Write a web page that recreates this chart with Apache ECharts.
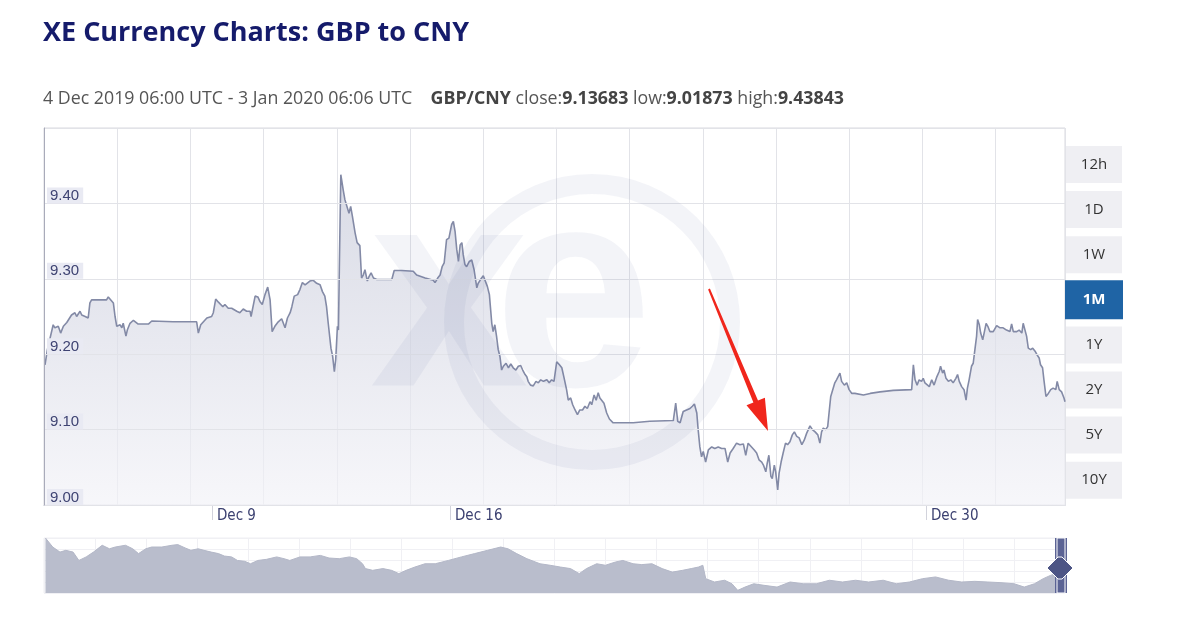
<!DOCTYPE html>
<html><head><meta charset="utf-8">
<script src="https://cdn.jsdelivr.net/npm/echarts@6/dist/echarts.min.js"></script>
<style>html,body{margin:0;padding:0;background:#fff}#c{width:1197px;height:625px}</style>
</head><body><div id="c"></div>
<script>
// GBP/CNY, x = days since 1 Dec 2019 00:00 (Dec 9 = 8), y = rate
const gbpCny = [[3.09,9.186],[3.16,9.206],[3.33,9.239],[3.38,9.235],[3.48,9.237],[3.55,9.228],[3.63,9.237],[3.73,9.242],[3.87,9.252],[3.97,9.255],
[4.02,9.250],[4.12,9.257],[4.17,9.252],[4.27,9.250],[4.36,9.248],[4.41,9.268],[4.46,9.272],[4.90,9.272],[4.95,9.276],[5.00,9.275],
[5.10,9.268],[5.15,9.250],[5.20,9.237],[5.25,9.235],[5.30,9.239],[5.35,9.235],[5.39,9.241],[5.47,9.224],[5.51,9.232],[5.59,9.241],
[5.69,9.245],[5.83,9.240],[6.13,9.240],[6.23,9.244],[6.86,9.243],[7.55,9.243],[7.60,9.228],[7.67,9.239],[7.85,9.248],[7.99,9.250],
[8.04,9.255],[8.11,9.273],[8.19,9.269],[8.24,9.270],[8.32,9.263],[8.38,9.266],[8.48,9.261],[8.58,9.261],[8.73,9.257],[8.82,9.255],
[8.92,9.260],[9.02,9.257],[9.12,9.257],[9.15,9.250],[9.27,9.277],[9.35,9.276],[9.41,9.270],[9.48,9.266],[9.56,9.279],[9.64,9.289],
[9.71,9.272],[9.77,9.230],[9.85,9.237],[9.95,9.243],[10.05,9.247],[10.15,9.235],[10.22,9.248],[10.30,9.255],[10.35,9.263],[10.42,9.277],
[10.52,9.279],[10.59,9.286],[10.66,9.295],[10.74,9.292],[10.88,9.297],[10.98,9.298],[11.08,9.294],[11.18,9.292],[11.25,9.283],[11.32,9.277],
[11.37,9.263],[11.42,9.241],[11.50,9.208],[11.55,9.197],[11.60,9.177],[11.64,9.193],[11.69,9.237],[11.72,9.232],[11.75,9.325],[11.79,9.438],
[11.86,9.418],[11.91,9.405],[11.96,9.403],[12.03,9.387],[12.08,9.396],[12.13,9.383],[12.21,9.361],[12.27,9.348],[12.35,9.344],[12.40,9.301],
[12.45,9.305],[12.50,9.312],[12.57,9.297],[12.62,9.303],[12.68,9.308],[12.75,9.301],[12.85,9.299],[13.29,9.299],[13.36,9.311],[13.58,9.311],
[13.92,9.310],[14.02,9.305],[14.27,9.301],[14.51,9.298],[14.56,9.295],[14.64,9.301],[14.71,9.305],[14.77,9.316],[14.83,9.321],[14.90,9.352],
[14.97,9.354],[15.05,9.372],[15.10,9.376],[15.15,9.363],[15.20,9.339],[15.25,9.323],[15.30,9.345],[15.35,9.348],[15.39,9.332],[15.44,9.319],
[15.49,9.316],[15.57,9.323],[15.64,9.325],[15.71,9.312],[15.79,9.288],[15.83,9.294],[15.90,9.299],[15.98,9.304],[16.03,9.302],[16.10,9.290],
[16.16,9.279],[16.23,9.241],[16.27,9.230],[16.32,9.239],[16.37,9.224],[16.42,9.206],[16.47,9.197],[16.52,9.179],[16.57,9.184],[16.65,9.188],
[16.72,9.182],[16.79,9.187],[16.86,9.182],[16.94,9.179],[17.01,9.184],[17.08,9.185],[17.14,9.179],[17.21,9.173],[17.26,9.170],[17.30,9.164],
[17.37,9.159],[17.45,9.158],[17.53,9.164],[17.60,9.162],[17.67,9.166],[17.75,9.164],[17.85,9.166],[17.92,9.162],[17.99,9.166],[18.06,9.164],
[18.14,9.190],[18.22,9.186],[18.29,9.182],[18.35,9.170],[18.43,9.153],[18.48,9.139],[18.55,9.142],[18.61,9.133],[18.68,9.126],[18.75,9.120],
[18.82,9.126],[18.90,9.126],[18.97,9.131],[19.04,9.128],[19.12,9.137],[19.17,9.133],[19.24,9.146],[19.30,9.139],[19.36,9.149],[19.41,9.142],
[19.46,9.144],[19.53,9.135],[19.61,9.122],[19.69,9.114],[19.80,9.109],[20.39,9.109],[20.88,9.111],[21.57,9.112],[21.64,9.135],[21.70,9.111],
[21.77,9.109],[21.86,9.124],[21.96,9.126],[22.06,9.128],[22.13,9.131],[22.19,9.134],[22.26,9.122],[22.30,9.100],[22.35,9.077],[22.40,9.064],
[22.45,9.071],[22.52,9.057],[22.60,9.073],[22.70,9.077],[22.79,9.075],[22.89,9.077],[22.99,9.075],[23.09,9.075],[23.17,9.057],[23.24,9.069],
[23.33,9.075],[23.43,9.082],[23.53,9.080],[23.63,9.081],[23.70,9.066],[23.77,9.082],[23.87,9.077],[23.95,9.073],[24.02,9.069],[24.09,9.060],
[24.17,9.057],[24.22,9.053],[24.29,9.044],[24.33,9.055],[24.38,9.066],[24.44,9.038],[24.48,9.035],[24.54,9.053],[24.58,9.044],[24.64,9.020],
[24.68,9.042],[24.74,9.057],[24.80,9.069],[24.87,9.082],[24.93,9.080],[25.00,9.084],[25.07,9.093],[25.13,9.097],[25.20,9.091],[25.27,9.089],
[25.35,9.080],[25.42,9.086],[25.49,9.095],[25.59,9.105],[25.66,9.100],[25.74,9.097],[25.82,9.093],[25.88,9.082],[25.93,9.097],[25.98,9.102],
[26.05,9.100],[26.11,9.104],[26.15,9.122],[26.20,9.144],[26.25,9.142],[26.32,9.162],[26.37,9.166],[26.42,9.164],[26.47,9.175],[26.52,9.164],
[26.60,9.159],[26.67,9.162],[26.74,9.153],[26.82,9.148],[26.91,9.148],[27.16,9.146],[27.36,9.148],[27.65,9.150],[28.04,9.152],[28.58,9.153],
[28.63,9.186],[28.68,9.166],[28.74,9.159],[28.80,9.166],[28.87,9.164],[28.92,9.168],[28.97,9.162],[29.02,9.164],[29.10,9.157],[29.17,9.166],
[29.24,9.159],[29.32,9.170],[29.39,9.177],[29.43,9.184],[29.49,9.175],[29.53,9.179],[29.59,9.168],[29.66,9.164],[29.73,9.166],[29.80,9.162],
[29.88,9.168],[29.93,9.173],[29.98,9.164],[30.05,9.157],[30.12,9.153],[30.18,9.139],[30.22,9.155],[30.27,9.166],[30.34,9.184],[30.39,9.188],
[30.44,9.206],[30.49,9.224],[30.52,9.246],[30.57,9.239],[30.61,9.228],[30.67,9.219],[30.72,9.230],[30.77,9.241],[30.82,9.237],[30.88,9.230],
[30.98,9.230],[31.08,9.238],[31.18,9.235],[31.27,9.235],[31.37,9.232],[31.47,9.230],[31.52,9.240],[31.57,9.230],[31.67,9.230],[31.74,9.232],
[31.82,9.228],[31.86,9.241],[31.91,9.243],[31.96,9.224],[32.01,9.208],[32.08,9.206],[32.14,9.208],[32.21,9.204],[32.27,9.199],[32.33,9.195],
[32.37,9.186],[32.43,9.182],[32.47,9.166],[32.53,9.144],[32.60,9.148],[32.67,9.153],[32.74,9.155],[32.82,9.153],[32.86,9.164],[32.92,9.153],
[32.99,9.150],[33.06,9.142],[33.09,9.137]];

// navigator (long history), x = year, y = level
const navHistory = [[2013.01,10.50],[2013.06,10.09],[2013.11,9.86],[2013.15,9.94],[2013.20,9.86],[2013.24,9.48],[2013.29,9.64],[2013.34,9.86],[2013.40,10.17],[2013.45,10.01],
[2013.49,10.09],[2013.56,10.17],[2013.61,10.01],[2013.65,9.79],[2013.70,10.01],[2013.74,10.09],[2013.81,10.09],[2013.88,10.17],[2013.92,10.20],[2013.97,10.05],
[2014.01,9.94],[2014.06,10.01],[2014.10,9.94],[2014.15,9.86],[2014.20,9.79],[2014.24,9.68],[2014.29,9.64],[2014.33,9.48],[2014.38,9.44],[2014.42,9.33],
[2014.47,9.48],[2014.53,9.53],[2014.60,9.64],[2014.65,9.56],[2014.69,9.48],[2014.76,9.64],[2014.83,9.64],[2014.90,9.71],[2014.96,9.59],[2015.03,9.56],
[2015.10,9.64],[2015.15,9.56],[2015.19,9.33],[2015.21,9.11],[2015.26,9.03],[2015.33,9.11],[2015.39,9.03],[2015.44,8.88],[2015.49,9.03],[2015.55,9.18],
[2015.62,9.33],[2015.69,9.33],[2015.78,9.48],[2015.87,9.64],[2015.96,9.79],[2016.05,9.94],[2016.14,10.09],[2016.19,10.01],[2016.25,9.79],[2016.32,9.56],
[2016.41,9.33],[2016.48,9.26],[2016.55,9.18],[2016.62,9.11],[2016.68,8.88],[2016.73,9.11],[2016.80,9.33],[2016.86,9.26],[2016.93,9.41],[2016.98,9.48],
[2017.05,9.33],[2017.11,9.29],[2017.18,9.33],[2017.25,9.11],[2017.32,8.95],[2017.39,9.03],[2017.45,9.11],[2017.50,9.18],[2017.53,9.26],[2017.55,8.65],
[2017.61,8.50],[2017.68,8.58],[2017.73,8.42],[2017.77,8.12],[2017.82,8.27],[2017.88,8.42],[2017.95,8.35],[2018.04,8.27],[2018.13,8.50],[2018.22,8.42],
[2018.31,8.42],[2018.40,8.58],[2018.49,8.50],[2018.58,8.58],[2018.67,8.50],[2018.77,8.58],[2018.86,8.42],[2018.95,8.50],[2019.04,8.65],[2019.13,8.73],
[2019.22,8.58],[2019.31,8.50],[2019.40,8.53],[2019.49,8.50],[2019.58,8.47],[2019.67,8.42],[2019.74,8.27],[2019.81,8.42],[2019.87,8.65],[2019.92,8.80],
[2019.96,8.88],[2020.01,8.80]];

const xTickDays = [8, 15, 29];
const xTickLabels = ['Dec 9', 'Dec 16', 'Dec 30'];
const yTickValues = [9.0, 9.1, 9.2, 9.3, 9.4];
const rangeButtons = ['12h', '1D', '1W', '1M', '1Y', '2Y', '5Y', '10Y'];
const selectedRange = '1M';
const titleText = 'XE Currency Charts: GBP to CNY';
const subText = '4 Dec 2019 06:00 UTC - 3 Jan 2020 06:06 UTC    {b|GBP/CNY} close:{b|9.13683} low:{b|9.01873} high:{b|9.43843}';

const narrowFont = '"Liberation Sans Narrow", "DejaVu Sans Condensed", "Liberation Sans", sans-serif';
const chart = echarts.init(document.getElementById('c'), null, {renderer: 'canvas'});

const wm = 'rgba(95,105,160,0.075)';
const graphics = [];
// watermark
graphics.push({type: 'ring', silent: true, z: 50, shape: {cx: 592, cy: 322, r: 148, r0: 128}, style: {fill: wm}});
graphics.push({type: 'text', silent: true, z: 50, x: 370, y: 307, style: {text: 'x', font: 'bold 285px "Liberation Sans"', fill: wm, verticalAlign: 'middle'}});
graphics.push({type: 'text', silent: true, z: 50, x: 494, y: 307, style: {text: 'e', font: 'bold 285px "Liberation Sans"', fill: wm, verticalAlign: 'middle'}});
// red arrow annotation
graphics.push({type: 'polygon', silent: true, z: 60, shape: {points: [[708.1,289.4],[753.4,402.5],[746.5,405.3],[768,431],[764.9,397.7],[758.0,400.5],[709.9,288.6]]}, style: {fill: '#f0261c'}});
// range buttons
rangeButtons.forEach((b, i) => {
  const sel = b === selectedRange;
  const top = 146 + i * 45.1;
  graphics.push({type: 'rect', z: 40, shape: sel ? {x: 1065, y: top - 1, width: 58, height: 39} : {x: 1066, y: top, width: 56, height: 37},
    style: {fill: sel ? '#1f64a5' : '#efeff3'}});
  graphics.push({type: 'text', z: 41, x: 1094, y: top + 18.5, style: {text: b, fill: sel ? '#ffffff' : '#333333',
    font: (sel ? 'bold ' : '') + '15px "Open Sans"', align: 'center', verticalAlign: 'middle'}});
});
// navigator handle
graphics.push({type: 'rect', z: 40, shape: {x: 1055, y: 538, width: 12, height: 55}, style: {fill: '#5b6394'}});
graphics.push({type: 'rect', z: 41, shape: {x: 1057, y: 538, width: 8, height: 55}, style: {fill: 'none', stroke: '#ffffff', lineWidth: 1}});
graphics.push({type: 'polygon', z: 42, shape: {points: [[1047,568],[1058,557],[1062,557],[1073,568],[1062,579],[1058,579]]}, style: {fill: '#4d5585', stroke: '#ffffff', lineWidth: 1}});

chart.setOption({
  animation: false,
  backgroundColor: '#ffffff',
  title: [
    {text: titleText, left: 38, top: 15, textStyle: {fontFamily: 'Open Sans', fontWeight: 'bold', fontSize: 27, color: '#151b6b'}},
    {text: subText, left: 38, top: 85, textStyle: {fontFamily: 'Open Sans', fontWeight: 'normal', fontSize: 17.8, color: '#555555',
      rich: {b: {fontFamily: 'Open Sans', fontWeight: 'bold', fontSize: 17.8, color: '#444444'}}}}
  ],
  grid: [
    {left: 44, top: 128, width: 1021, height: 377, show: true, borderColor: '#d8d9df', borderWidth: 1, backgroundColor: '#ffffff'},
    {left: 44, top: 538, width: 1021, height: 55, show: true, borderColor: '#eeeef2', borderWidth: 1}
  ],
  xAxis: [
    {type: 'value', gridIndex: 0, min: 3.06, max: 33.09, position: 'bottom',
      axisLine: {show: true, lineStyle: {color: '#b4b7c7', width: 1}},
      axisTick: {show: true, length: 15, customValues: xTickDays, lineStyle: {color: '#d2d3dc'}},
      axisLabel: {customValues: xTickDays, formatter: v => xTickLabels[xTickDays.indexOf(v)] || '', align: 'left', margin: 4,
        padding: [0, 0, 0, 5], fontFamily: narrowFont, fontSize: 15, color: '#3b4070'},
      splitLine: {show: false}},
    {type: 'value', gridIndex: 0, min: 0, max: 13.948, interval: 1, position: 'top',
      axisLine: {show: false}, axisTick: {show: false}, axisLabel: {show: false},
      splitLine: {show: true, lineStyle: {color: '#e2e3e8', width: 1}}},
    {type: 'value', gridIndex: 1, min: 2013.0, max: 2020.02,
      axisLine: {show: false}, axisTick: {show: false}, axisLabel: {show: false}, splitLine: {show: false}},
    {type: 'value', gridIndex: 1, min: 0, max: 20, interval: 1, position: 'top',
      axisLine: {show: false}, axisTick: {show: false}, axisLabel: {show: false},
      splitLine: {show: true, lineStyle: {color: '#f0f0f4'}}}
  ],
  yAxis: [
    {type: 'value', gridIndex: 0, min: 9.0, max: 9.5, interval: 0.1,
      axisLine: {show: true, lineStyle: {color: '#a9abba'}},
      axisTick: {show: false},
      axisLabel: {inside: true, customValues: yTickValues, formatter: v => v.toFixed(2), verticalAlign: 'bottom', align: 'left',
        margin: 3, padding: [1, 4, 0, 3], backgroundColor: '#e9eaf3', fontFamily: 'Liberation Sans', fontSize: 15, color: '#3e4372'},
      splitLine: {show: true, lineStyle: {color: '#e2e3e8'}}, z: 5},
    {type: 'value', gridIndex: 1, min: 8.0, max: 10.5, interval: 0.5,
      axisLine: {show: false}, axisTick: {show: false}, axisLabel: {show: false},
      splitLine: {show: true, lineStyle: {color: '#f0f0f4'}}}
  ],
  series: [
    {type: 'line', xAxisIndex: 0, yAxisIndex: 0, data: gbpCny, showSymbol: false, symbol: 'none', silent: true,
      lineStyle: {color: '#838aa6', width: 1.6},
      areaStyle: {color: new echarts.graphic.LinearGradient(0, 0, 0, 1, [{offset: 0, color: '#c9ccdb'}, {offset: 1, color: '#f3f3f8'}])}},
    {type: 'line', xAxisIndex: 2, yAxisIndex: 1, data: navHistory, showSymbol: false, symbol: 'none', silent: true,
      lineStyle: {color: '#b3b7c7', width: 1},
      areaStyle: {color: '#b9bdcc', opacity: 1}}
  ],
  graphic: graphics
});
</script></body></html>
